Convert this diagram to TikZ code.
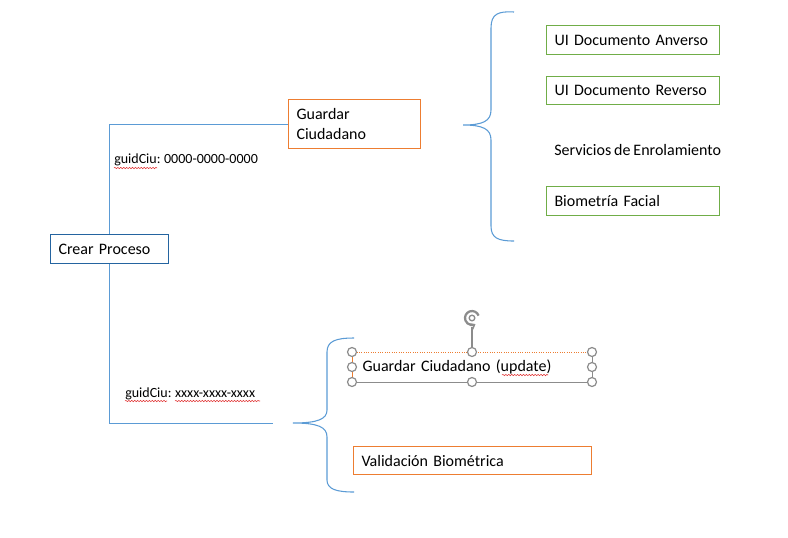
\documentclass[tikz,border=0pt]{standalone}
\usepackage{fontspec}
\setmainfont{Carlito}[WordSpace=0.8]
\usetikzlibrary{decorations.pathmorphing,arrows.meta}
\definecolor{dblue}{HTML}{2464A0}
\definecolor{lblue}{HTML}{5B9BD5}
\definecolor{orng}{HTML}{ED7D31}
\definecolor{grn}{HTML}{70AD47}
\definecolor{hgray}{HTML}{8C8C8C}
\definecolor{sqred}{HTML}{E03030}
\begin{document}
\begin{tikzpicture}[x=0.75pt,y=-0.75pt,
  box/.style={draw, line width=0.75pt, anchor=north west, inner xsep=8*0.75pt, inner ysep=0pt,
    align=left, font=\fontsize{12}{15}\selectfont},
  lbl/.style={anchor=west, inner sep=0pt, font=\fontsize{10.5}{12}\selectfont},
  conn/.style={lblue, line width=0.6pt},
  brace/.style={lblue, line width=0.8pt},
  squig/.style={sqred, line width=0.4pt, decorate, decoration={snake, amplitude=0.5pt, segment length=2.2pt}},
  handle/.style={circle, draw=hgray, fill=white, line width=0.9pt, minimum size=9*0.75pt, inner sep=0pt}]
\useasboundingbox (0,0) rectangle (788,537);

% main nodes
\node[box, draw=dblue, text width=102*0.75pt, minimum height=29*0.75pt] (crear) at (50,234) {Crear Proceso};
\node[box, draw=orng, text width=116*0.75pt, minimum height=49*0.75pt] (gc) at (288,99) {Guardar\\Ciudadano};
\node[box, draw=grn, text width=157*0.75pt, minimum height=29*0.75pt] (anv) at (546,25) {UI Documento Anverso};
\node[box, draw=grn, text width=157*0.75pt, minimum height=28*0.75pt] (rev) at (546,76) {UI Documento Reverso};
\node[anchor=west, inner sep=0pt, font=\fontsize{12}{15}\selectfont] (serv) at (554,150) {Servicios de Enrolamiento};
\node[box, draw=grn, text width=157*0.75pt, minimum height=29*0.75pt] (bio) at (546,186) {Biometría Facial};
\node[box, draw=none, text width=219*0.75pt, minimum height=29*0.75pt, inner xsep=10*0.75pt] (upd) at (352,352) {Guardar Ciudadano (update)};
\node[box, draw=orng, text width=222*0.75pt, minimum height=28*0.75pt] (val) at (353,446) {Validación Biométrica};

% labels
\node[lbl] (g1) at (114,160) {guidCiu: 0000-0000-0000};
\node[lbl] (g2) at (125,394) {guidCiu: xxxx-xxxx-xxxx};

% connectors
\coordinate (c2) at (273,423);
\draw[conn] (crear.north) |- (gc.west);
\draw[conn] (crear.south) |- (c2);

% braces
\draw[brace] (514,12) .. controls (498,11) and (491,14) .. (491,28) -- (491,110)
  .. controls (491,121) and (483,125) .. (463,125)
  .. controls (483,125) and (491,129) .. (491,140) -- (491,226)
  .. controls (491,238) and (498,241) .. (514,241);
\draw[brace] (354,338) .. controls (336,338) and (327,341) .. (327,352) -- (327,410)
  .. controls (327,419) and (318,423) .. (293,423)
  .. controls (318,423) and (327,427) .. (327,437) -- (327,480)
  .. controls (327,489) and (336,492) .. (354,492);

% selected text box frame
\draw[hgray, line width=0.75pt] (upd.north east) -- (upd.south east) -- (upd.south west);
\draw[orng, line width=0.75pt] (upd.south west) -- (upd.north west);
\draw[orng, line width=0.75pt, densely dotted] (upd.north west) -- (upd.north east);
\draw[hgray, line width=0.9pt] (upd.north) -- ++(0,-25);
\draw[hgray, line width=1.7pt, -{Stealth[length=3.5pt,width=5.5pt]}] (472,318) ++(-20:7) arc[start angle=-20, end angle=-300, radius=7];
\draw[hgray, line width=1pt] (472,318) circle[radius=2.8];
\foreach \a in {north west, north, north east, west, east, south west, south, south east}
  \node[handle] at (upd.\a) {};

% spell-check squiggles
\draw[squig] (114,168) -- (157,168);
\draw[squig] (125,401) -- (167,401);
\draw[squig] (175,401) -- (260,401);
\draw[squig] (502,375) -- (548,375);
\end{tikzpicture}
\end{document}
